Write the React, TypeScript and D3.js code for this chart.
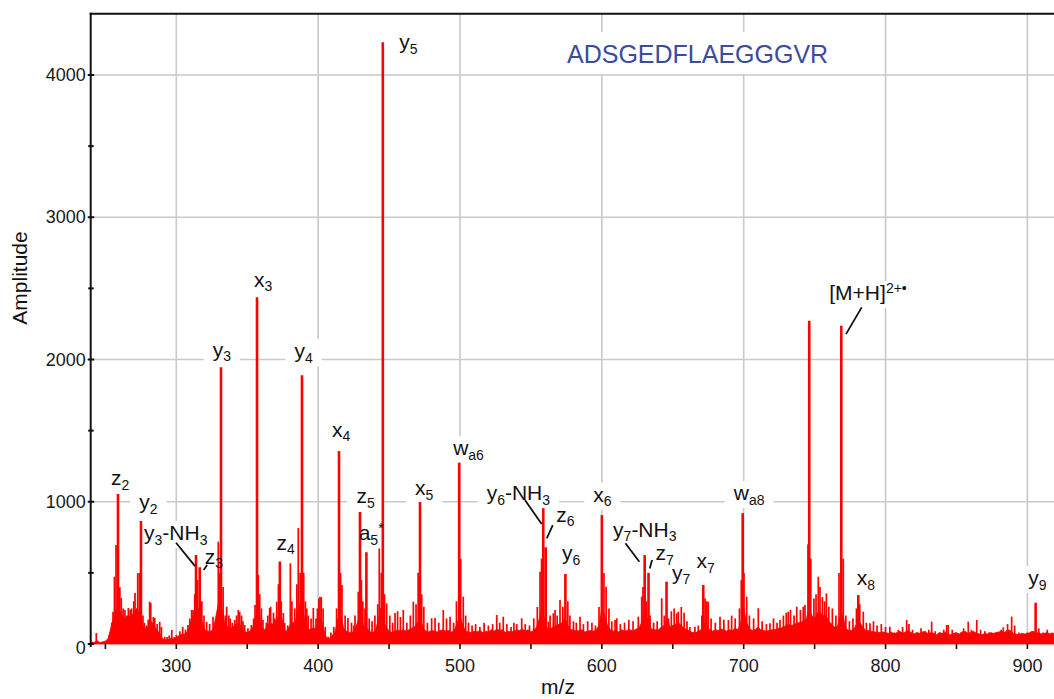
import React from "react";
import * as d3 from "d3";

// ---- axis ticks -----------------------------------------------------------
const xMajorTicks = [300, 400, 500, 600, 700, 800, 900];
const xMinorTicks = [250, 350, 450, 550, 650, 750, 850];
const yMajorTicks = [0, 1000, 2000, 3000, 4000];
const yMinorTicks = [500, 1500, 2500, 3500];

const peptide = "ADSGEDFLAEGGGVR";

// ---- assigned fragment ions (markup: _ subscript, ^ superscript) ----------
const ionLabels = [
  "z_2", "y_2", "y_3-NH_3", "z_3", "y_3", "x_3", "z_4", "y_4", "x_4", "z_5",
  "a_5^*", "y_5", "x_5", "w_{a6}", "y_6-NH_3", "z_6", "y_6", "x_6", "y_7-NH_3",
  "z_7", "y_7", "x_7", "w_{a8}", "[M+H]^{2+•}", "x_8", "y_9",
];
const ionMz = [
  258.9, 275.1, 313.9, 316.5, 331.5, 356.9, 373.0, 388.6, 414.7, 429.5,
  434.0, 445.6, 471.8, 499.4, 558.7, 560.4, 574.3, 600.0, 630.2,
  632.9, 645.6, 671.5, 699.3, 768.8, 780.8, 905.8,
];
const ionAmp = [
  1054, 864, 625, 540, 1946, 2438, 580, 1890, 1356, 928,
  645, 4230, 998, 1275, 955, 680, 492, 906, 625,
  500, 438, 415, 920, 2237, 344, 290,
];

// unassigned intense peak next to the precursor
const otherPeaks: [number, number][] = [[746.2, 2272]];

// smaller spectral lines [m/z, amplitude]
const minorPeaks: [number, number][] = [
  [243.6, 77], [252.5, 60], [254.5, 150], [255.4, 227], [256.4, 473], [257.5, 696], [260.2, 400], [261.2, 323],
  [262.5, 250], [263.8, 239], [265, 200], [266.2, 253], [267.5, 240], [268.5, 250], [270, 300], [270.9, 358],
  [272.8, 498], [274, 500], [276.5, 200], [277.5, 150], [279, 130], [280.2, 170], [281.2, 297], [282, 288],
  [283.8, 190], [284.8, 183], [286.5, 140], [288.3, 157], [289.5, 120], [291.8, 51], [293.5, 50], [295, 60],
  [296.8, 98], [298.5, 50], [300, 63], [302.5, 90], [304.5, 122], [306.5, 100], [308.2, 134], [309.5, 180],
  [310.8, 239], [311.8, 239], [313, 350], [315, 450], [318, 300], [319.5, 200], [321.4, 157], [323.5, 140],
  [325.9, 192], [327.5, 150], [329.6, 719], [330.5, 500], [333, 400], [334.5, 200], [335.5, 262], [337, 200],
  [338, 180], [339.5, 150], [341.2, 169], [342.5, 200], [343.7, 239], [344.7, 227], [346, 200], [347, 160],
  [348.2, 134], [350.5, 110], [352.9, 134], [354.5, 180], [355.5, 274], [357.8, 485], [358.8, 350], [360, 250],
  [361.1, 169], [363.5, 150], [364.5, 200], [365.8, 253], [366.5, 262], [368.5, 220], [369.5, 180], [370.8, 297],
  [372, 420], [374, 300], [375.5, 218], [376.4, 148], [378.5, 130], [380.4, 567], [381.5, 300], [383.5, 250],
  [385, 420], [386, 815], [387.3, 500], [389.8, 500], [391, 300], [392, 250], [393, 200], [395, 180],
  [396.6, 253], [398.5, 180], [399.5, 250], [400.5, 320], [401.3, 333], [402.2, 330], [403.5, 250], [405, 120],
  [407, 51], [409, 80], [411, 120], [413, 250], [415.8, 500], [416.8, 415], [419, 200], [421, 183],
  [423.5, 150], [425, 130], [426, 200], [428.3, 368], [430.5, 450], [431.5, 300], [433, 250], [436, 180],
  [438, 160], [440, 200], [442, 280], [443.1, 672], [444.5, 500], [446.8, 350], [448.3, 286], [450.5, 200],
  [452.5, 150], [454.2, 218], [456, 230], [458, 190], [460, 239], [462.5, 150], [465, 200], [467.1, 297],
  [469, 280], [470.5, 500], [473, 350], [474.5, 262], [477, 150], [480, 181], [482.4, 183], [485, 150],
  [488.2, 239], [490.5, 180], [493, 192], [495.5, 150], [497.5, 300], [500.5, 600], [502.3, 333], [504, 200],
  [506, 150], [508.5, 130], [511, 140], [514, 120], [517, 150], [520, 130], [523, 140], [525.9, 204],
  [528, 150], [530.5, 192], [533, 140], [536, 120], [538, 150], [540, 140], [543.5, 181], [546, 140],
  [549, 130], [552, 180], [554.5, 260], [556.4, 508], [557.5, 600], [562.3, 157], [563.5, 200], [565.8, 216],
  [567, 239], [568.5, 200], [570.5, 309], [572.5, 262], [576, 300], [577.5, 200], [580, 160], [582, 150],
  [584.6, 192], [587, 140], [590, 160], [593, 150], [595.5, 130], [598, 260], [601.5, 500], [603, 403],
  [605, 250], [607, 160], [609.3, 169], [610.5, 181], [613, 140], [616, 150], [619, 170], [622, 160],
  [625.7, 192], [628.1, 333], [629, 400], [631.5, 300], [634, 200], [636.5, 150], [639, 160], [642.2, 321],
  [644, 200], [647, 180], [649, 230], [651, 250], [652.8, 216], [653.9, 227], [656, 260], [658, 220],
  [660, 160], [662, 120], [665.6, 122], [668, 130], [670.5, 200], [672.8, 320], [674, 300], [675, 297],
  [677, 180], [680, 150], [683.3, 192], [686, 170], [689.2, 169], [691.5, 200], [694, 180], [697, 250],
  [698.3, 450], [700.2, 500], [702.1, 333], [704, 200], [707, 180], [710.3, 251], [713, 160], [716, 140],
  [718.5, 145], [721, 180], [723.5, 150], [725.6, 169], [728, 200], [730, 220], [731.4, 227], [733, 240],
  [735.5, 200], [737.4, 262], [740, 240], [742, 262], [743.2, 274], [745.3, 700], [747.3, 600], [749.5, 320],
  [751, 350], [752.6, 473], [753.8, 400], [755.5, 330], [757, 300], [758.3, 356], [760, 262], [762.5, 250],
  [765, 200], [767.2, 500], [770.2, 600], [772, 200], [774.5, 160], [777, 180], [779.5, 250], [781.8, 280],
  [784.3, 227], [786.5, 150], [789, 145], [791.5, 160], [794, 130], [797, 140], [800, 120], [803, 122],
  [806, 80], [809, 100], [812, 120], [814.9, 169], [816.5, 140], [819, 100], [822, 80], [825, 110],
  [828, 80], [830.5, 100], [832.5, 157], [835, 90], [838, 80], [841, 100], [843.1, 134], [844.2, 134],
  [847, 100], [850, 70], [853, 80], [855, 110], [858.3, 157], [860.5, 100], [864.3, 169], [867, 100],
  [870, 90], [873, 80], [876, 70], [879, 80], [881.5, 100], [883, 117], [886, 140], [888.9, 192],
  [891, 130], [894, 80], [897, 70], [900, 80], [903, 90], [908, 110], [911, 80], [914, 100], [917, 80],
];

// chemical-noise floor, sampled every 2 m/z from 240
const floorStartMz = 240;
const floorStepMz = 2;
const floorLevel = [
  15, 10, 25, 10, 15, 20, 40, 120, 200, 250,
  230, 200, 180, 200, 190, 220, 250, 220, 130, 110,
  120, 160, 140, 100, 80, 40, 30, 30, 40, 35,
  45, 60, 70, 70, 90, 150, 200, 250, 250, 160,
  100, 90, 90, 100, 200, 300, 250, 150, 120, 110,
  120, 140, 150, 120, 90, 80, 90, 120, 200, 250,
  120, 100, 120, 150, 140, 160, 200, 200, 100, 90,
  130, 150, 160, 250, 300, 200, 120, 100, 110, 110,
  150, 180, 100, 40, 40, 60, 90, 180, 200, 110,
  90, 80, 80, 100, 160, 200, 130, 120, 90, 80,
  90, 150, 250, 160, 120, 90, 80, 90, 100, 90,
  100, 90, 100, 110, 120, 150, 180, 110, 90, 85,
  95, 90, 85, 95, 100, 90, 95, 85, 95, 150,
  200, 130, 90, 85, 80, 90, 85, 95, 80, 90,
  85, 100, 90, 105, 95, 100, 80, 90, 85, 90,
  100, 95, 105, 90, 100, 85, 95, 120, 180, 250,
  150, 100, 110, 120, 130, 140, 150, 180, 130, 100,
  100, 90, 95, 100, 85, 90, 95, 90, 100, 130,
  250, 200, 130, 100, 90, 95, 85, 100, 90, 95,
  100, 90, 105, 110, 150, 220, 180, 120, 100, 100,
  100, 120, 130, 180, 120, 130, 140, 150, 130, 110,
  100, 90, 80, 80, 90, 100, 150, 130, 100, 90,
  100, 95, 105, 100, 90, 100, 95, 110, 100, 150,
  250, 150, 110, 95, 100, 120, 100, 95, 90, 95,
  100, 100, 110, 110, 120, 130, 140, 130, 140, 150,
  150, 160, 170, 250, 200, 180, 220, 220, 200, 200,
  160, 140, 120, 120, 200, 200, 110, 95, 95, 110,
  150, 150, 120, 95, 95, 90, 85, 85, 80, 85,
  80, 75, 85, 70, 80, 90, 75, 85, 95, 80,
  70, 80, 75, 85, 90, 70, 80, 75, 65, 80,
  75, 85, 70, 65, 75, 80, 70, 85, 90, 75,
  80, 90, 75, 70, 65, 75, 70, 80, 75, 80,
  85, 90, 80, 100, 95, 75, 70, 65, 75, 70,
  75, 80, 90, 75, 80, 70, 75, 80, 70, 75,
  75,
];

// ---- layout ---------------------------------------------------------------
const W = 1054;
const H = 699;
const plotLeft = 90.7;
const plotTop = 13.7;
const plotRight = W;
const plotBottom = 644;

const FONT = "'Liberation Sans', Arial, Helvetica, sans-serif";
const RED = "#ff0000";
const GRID = "#c9c9c9";
const LABEL_SIZE = 21;
const SMALL_SIZE = 14;

// label placement relative to the peak top (px): [dx, dy of baseline]
const labelOffset: Record<string, [number, number]> = {
  "z_2": [-7, -9], "y_2": [-1.7, -12], "y_3-NH_3": [-52, -15], "z_3": [5, -3.5],
  "y_3": [-8.3, -10.4], "x_3": [-3, -10.4], "z_4": [-3.4, -11.5], "y_4": [-7.6, -17],
  "x_4": [-7, -14.3], "z_5": [-3.6, -8.7], "a_5^*": [-7.7, -12.2], "y_5": [16.5, 7.2],
  "x_5": [-5, -7], "w_{a6}": [-6, -7.6], "y_6-NH_3": [-56.6, -8], "z_6": [10.5, -25.5],
  "y_6": [-3.3, -14], "x_6": [-8.7, -13.4], "y_7-NH_3": [-31.6, -18.4], "z_7": [6.9, -12.8],
  "y_7": [5.5, -2], "x_7": [-6.8, -16.7], "w_{a8}": [-8.9, -13.1], "[M+H]^{2+•}": [-12, -25.7],
  "x_8": [-1.6, -10], "y_9": [-7.3, -17.7],
};
// leader lines relative to the peak top (px): [x1, y1, x2, y2]
const leaderOffset: Record<string, [number, number, number, number]> = {
  "y_3-NH_3": [-20, -12.4, -1, 11],
  "z_3": [4, 2.8, 7.4, -2.2],
  "y_6-NH_3": [-18.3, -8.1, -1.6, 15.9],
  "z_6": [7.1, -22.2, 1.1, -8.9],
  "y_7-NH_3": [-19.3, -11.8, -5.3, 6.6],
  "z_7": [3.6, -12.8, 1.2, -4.5],
  "[M+H]^{2+•}": [20.4, -18.4, 4.7, 8.3],
};

type Part = { text: string; kind: "n" | "sub" | "sup" };

function parseMarkup(s: string): Part[] {
  const parts: Part[] = [];
  let buf = "";
  let i = 0;
  const flush = () => {
    if (buf) parts.push({ text: buf, kind: "n" });
    buf = "";
  };
  while (i < s.length) {
    const c = s[i];
    if (c === "_" || c === "^") {
      flush();
      const kind = c === "_" ? "sub" : "sup";
      let t = "";
      if (s[i + 1] === "{") {
        const end = s.indexOf("}", i + 2);
        t = s.slice(i + 2, end);
        i = end + 1;
      } else {
        t = s[i + 1];
        i += 2;
      }
      parts.push({ text: t, kind });
    } else {
      buf += c;
      i++;
    }
  }
  flush();
  return parts;
}

let ctx: CanvasRenderingContext2D | null = null;
function textWidth(t: string, size: number) {
  if (!ctx) ctx = document.createElement("canvas").getContext("2d");
  if (!ctx) return t.length * size * 0.55;
  ctx.font = `${size}px ${FONT}`;
  return ctx.measureText(t).width;
}

function richWidth(parts: Part[]) {
  return parts.reduce((w, p) => w + textWidth(p.text, p.kind === "n" ? LABEL_SIZE : SMALL_SIZE), 0);
}

function RichText({ parts, x0, yb }: { parts: Part[]; x0: number; yb: number }) {
  let shift = 0;
  return (
    <text x={x0} y={yb} fontSize={LABEL_SIZE} fontFamily={FONT} fill="#111">
      {parts.map((p, i) => {
        const target = p.kind === "sub" ? 4.5 : p.kind === "sup" ? -7 : 0;
        const dy = target - shift;
        shift = target;
        return (
          <tspan key={i} dy={dy} fontSize={p.kind === "n" ? LABEL_SIZE : SMALL_SIZE}>
            {p.text}
          </tspan>
        );
      })}
    </text>
  );
}

export default function App() {
  const x = d3.scaleLinear().domain([300, 900]).range([176.3, 1027.4]);
  const y = d3.scaleLinear().domain([0, 4000]).range([plotBottom, 75]);

  const floorPts = floorLevel.map((v, i) => [floorStartMz + i * floorStepMz, v] as [number, number]);
  const floorArea = d3
    .area<[number, number]>()
    .x((d) => x(d[0]))
    .y0(y(0))
    .y1((d) => y(d[1]))(floorPts) as string;

  const ions = ionLabels.map((label, i) => {
    const px = x(ionMz[i]);
    const py = y(ionAmp[i]);
    const parts = parseMarkup(label);
    const [dx, dy] = labelOffset[label];
    const lx = px + dx;
    const ly = py + dy;
    const w = richWidth(parts);
    return { label, px, py, parts, lx, ly, w };
  });

  const tickStyle = { fontFamily: FONT, fontSize: 18, fill: "#1a1a1a" } as const;

  return (
    <svg
      width={W}
      height={H}
      style={{ position: "absolute", left: 0, top: 0, background: "#fff" }}
    >
      <rect x={0} y={0} width={W} height={H} fill="#fff" />
      <defs>
        <clipPath id="plotClip">
          <rect x={plotLeft} y={plotTop} width={plotRight - plotLeft} height={plotBottom - plotTop + 1} />
        </clipPath>
      </defs>

      {/* grid */}
      {xMajorTicks.map((t) => (
        <line key={"gx" + t} x1={x(t)} x2={x(t)} y1={plotTop} y2={plotBottom + 2} stroke={GRID} strokeWidth={1.6} />
      ))}
      {yMajorTicks.filter((t) => t > 0).map((t) => (
        <line key={"gy" + t} x1={plotLeft} x2={plotRight} y1={y(t)} y2={y(t)} stroke={GRID} strokeWidth={1.6} />
      ))}

      {/* peptide sequence */}
      <rect x={556} y={32} width={284} height={42} fill="#fff" />
      <text x={567} y={63} fontFamily={FONT} fontSize={25} fill="#3b4c9b">
        {peptide}
      </text>

      {/* label backgrounds */}
      {ions.map((d) => (
        <rect key={"bg" + d.label} x={d.lx - 9} y={d.ly - 19} width={d.w + 18} height={27} fill="#fff" />
      ))}

      {/* spectrum */}
      <g clipPath="url(#plotClip)">
        <path d={floorArea} fill={RED} stroke={RED} strokeWidth={0.8} />
        {minorPeaks.map(([m, a], i) => (
          <line key={"mp" + i} x1={x(m)} x2={x(m)} y1={y(0)} y2={y(a)} stroke={RED} strokeWidth={1.7} />
        ))}
        {otherPeaks.map(([m, a], i) => (
          <line key={"op" + i} x1={x(m)} x2={x(m)} y1={y(0)} y2={y(a)} stroke={RED} strokeWidth={2.6} />
        ))}
        {ions.map((d, i) => (
          <line key={"ip" + i} x1={d.px} x2={d.px} y1={y(0)} y2={d.py} stroke={RED} strokeWidth={2.6} />
        ))}
      </g>

      {/* ion labels and leaders */}
      {ions.map((d) => {
        const lo = leaderOffset[d.label];
        return (
          <g key={"lab" + d.label}>
            {lo && (
              <line
                x1={d.px + lo[0]}
                y1={d.py + lo[1]}
                x2={d.px + lo[2]}
                y2={d.py + lo[3]}
                stroke="#111"
                strokeWidth={1.8}
              />
            )}
            <RichText parts={d.parts} x0={d.lx} yb={d.ly} />
          </g>
        );
      })}

      {/* frame: left axis and top border */}
      <line x1={plotLeft} x2={plotLeft} y1={plotTop - 1} y2={plotBottom + 3} stroke="#111" strokeWidth={2} />
      <line x1={plotLeft - 1} x2={plotRight} y1={plotTop} y2={plotTop} stroke="#111" strokeWidth={2} />

      {/* y ticks */}
      {yMajorTicks.map((t) => (
        <g key={"yt" + t}>
          <line x1={plotLeft - 3} x2={plotLeft + 3.5} y1={y(t)} y2={y(t)} stroke="#111" strokeWidth={2} />
          <text
            x={plotLeft - 5}
            y={y(t) + (t === 0 ? 4 : 0)}
            textAnchor="end"
            dominantBaseline="central"
            {...tickStyle}
          >
            {t}
          </text>
        </g>
      ))}
      {yMinorTicks.map((t) => (
        <line key={"ym" + t} x1={plotLeft - 2.5} x2={plotLeft + 3} y1={y(t)} y2={y(t)} stroke="#111" strokeWidth={2} />
      ))}

      {/* x ticks */}
      {[...xMajorTicks, ...xMinorTicks].map((t) => (
        <line key={"xt" + t} x1={x(t)} x2={x(t)} y1={plotBottom} y2={plotBottom + 5} stroke="#111" strokeWidth={1.6} />
      ))}
      {xMajorTicks.map((t) => (
        <text key={"xl" + t} x={x(t)} y={672} textAnchor="middle" {...tickStyle}>
          {t}
        </text>
      ))}

      {/* axis titles */}
      <text
        transform={`translate(27,278) rotate(-90)`}
        textAnchor="middle"
        fontFamily={FONT}
        fontSize={21}
        fill="#111"
      >
        Amplitude
      </text>
      <text x={558} y={694} textAnchor="middle" fontFamily={FONT} fontSize={21} fill="#111">
        m/z
      </text>
    </svg>
  );
}
